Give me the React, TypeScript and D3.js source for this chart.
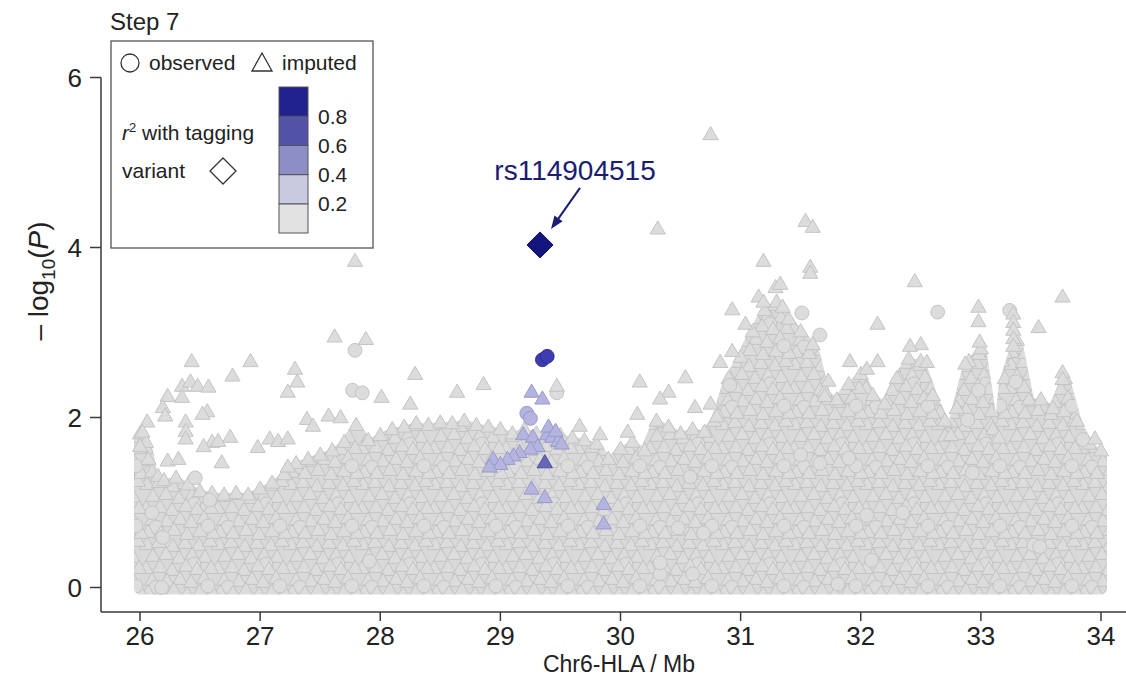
import React from 'react';
import * as d3 from 'd3';

// ---------- data ----------
const xTicks = [26, 27, 28, 29, 30, 31, 32, 33, 34];
const yTicks = [0, 2, 4, 6];
const r2Breaks = [0.2, 0.4, 0.6, 0.8];
const legendColors = ['#e2e2e2', '#c9c9df', '#8e8ec6', '#5252a8', '#20208e'];
const legendLabels = ['0.2', '0.4', '0.6', '0.8'];
const markerFill = ['#dcdcdc', '#cdcde6', '#b4b4de', '#6767b9', '#3d3db0'];
const markerStroke = ['#c4c4c4', '#b4b4d6', '#9a9acc', '#4c4ca6', '#2c2c9c'];

// upper frontier of the dense cloud of SNPs (position Mb, -log10 P)
const massTop: [number, number][] = [
  [26.0, 1.8], [26.05, 1.7], [26.1, 1.35], [26.15, 1.3], [26.2, 1.25], [26.3, 1.28], [26.4, 1.2], [26.5, 1.12],
  [26.6, 1.1], [26.7, 1.08], [26.8, 1.1], [26.9, 1.08], [27.0, 1.15], [27.1, 1.22], [27.2, 1.32], [27.3, 1.45],
  [27.4, 1.5], [27.5, 1.55], [27.6, 1.6], [27.7, 1.7], [27.8, 1.9], [27.9, 1.72], [28.0, 1.78], [28.1, 1.85],
  [28.2, 1.88], [28.3, 1.92], [28.4, 1.9], [28.5, 1.93], [28.6, 1.92], [28.7, 1.95], [28.8, 1.9], [28.9, 1.88],
  [29.0, 1.85], [29.1, 1.8], [29.2, 1.85], [29.3, 1.8], [29.4, 1.82], [29.5, 1.78], [29.6, 1.75], [29.7, 1.72],
  [29.8, 1.68], [29.9, 1.5], [30.0, 1.62], [30.1, 1.7], [30.2, 1.6], [30.3, 1.95], [30.4, 1.88], [30.5, 1.8],
  [30.6, 1.85], [30.7, 1.82], [30.8, 2.0], [30.9, 2.45], [31.0, 2.7], [31.1, 3.0], [31.2, 3.25], [31.3, 3.35],
  [31.4, 3.15], [31.5, 3.0], [31.6, 2.85], [31.7, 2.3], [31.8, 2.2], [31.9, 2.38], [32.0, 2.5], [32.1, 2.25],
  [32.2, 2.15], [32.3, 2.45], [32.4, 2.68], [32.5, 2.65], [32.6, 2.25], [32.7, 1.95], [32.75, 1.78], [32.8, 2.1],
  [32.9, 2.65], [33.0, 2.8], [33.1, 1.85], [33.15, 1.75], [33.2, 2.45], [33.3, 2.9], [33.4, 2.2], [33.5, 2.2],
  [33.6, 2.1], [33.7, 2.45], [33.8, 1.95], [33.9, 1.68], [34.0, 1.6],
];

// imputed SNPs standing out of the cloud (r2 < 0.2)
const imputedPts: [number, number][] = [
  [30.75, 5.32], [30.31, 4.21], [31.54, 4.3], [31.6, 4.23], [27.79, 3.83], [31.19, 3.83], [31.58, 3.76], [31.58, 3.69],
  [32.45, 3.59], [33.68, 3.41], [31.29, 3.52], [31.33, 3.56], [31.15, 3.41], [31.19, 3.35], [31.35, 3.29], [30.93, 3.26],
  [31.04, 3.09], [32.14, 3.09], [32.98, 3.29], [32.98, 3.12], [33.27, 3.21], [33.27, 3.11], [33.27, 3.02], [33.27, 2.92],
  [33.27, 2.83], [33.48, 3.05], [27.62, 2.94], [27.88, 2.91], [32.5, 2.85], [32.41, 2.83], [32.99, 2.88], [30.93, 2.77],
  [30.83, 2.64], [31.91, 2.65], [32.14, 2.65], [32.55, 2.64], [32.87, 2.62], [26.43, 2.65], [26.92, 2.65], [32.05, 2.56],
  [27.29, 2.56], [33.68, 2.52], [33.68, 2.44], [28.29, 2.5], [26.77, 2.48], [30.16, 2.41], [30.54, 2.46], [27.31, 2.41],
  [31.73, 2.42], [28.86, 2.38], [26.35, 2.36], [26.42, 2.41], [26.48, 2.36], [26.57, 2.35], [27.23, 2.29], [28.64, 2.29],
  [29.47, 2.36], [30.4, 2.29], [28.01, 2.23], [26.23, 2.24], [26.35, 2.23], [31.7, 2.24], [30.33, 2.21], [28.25, 2.15],
  [30.62, 2.11], [30.75, 2.15], [26.19, 2.11], [26.56, 2.06], [26.52, 2.03], [30.14, 2.03], [26.21, 2.01], [26.06, 1.94],
  [26.38, 1.94], [27.39, 1.97], [27.57, 2.01], [27.67, 1.99], [27.44, 1.89], [29.66, 1.89], [26.02, 1.82], [30.06, 1.82],
  [29.83, 1.79], [26.38, 1.83], [26.38, 1.74], [26.75, 1.76], [27.08, 1.74], [27.15, 1.71], [27.23, 1.74], [26.6, 1.7],
  [26.65, 1.71], [26.0, 1.65], [26.98, 1.64], [26.53, 1.65], [26.07, 1.5], [26.23, 1.48], [26.32, 1.5], [26.68, 1.46],
  [27.23, 1.41], [33.95, 1.74],
];

// observed (genotyped) SNPs, r2 < 0.2
const observedPts: [number, number][] = [
  [27.79, 2.79], [27.77, 2.32], [27.85, 2.29], [29.47, 2.29], [31.51, 3.23], [31.66, 2.97], [32.64, 3.24], [33.24, 3.26],
  [30.91, 2.38], [33.85, 1.74], [26.18, 0.0], [27.91, 0.31], [30.33, 0.16], [30.6, 0.16], [31.81, 0.04], [32.09, 0.32],
  [33.44, 0.5], [26.19, 0.59], [26.46, 1.29], [26.58, 1.03], [26.1, 0.88], [30.58, 1.3], [31.5, 1.56], [30.33, 0.29],
  [30.69, 0.64], [31.9, 1.52], [30.48, 0.7], [31.66, 1.46], [32.05, 0.85], [32.98, 2.32], [33.29, 2.42], [32.89, 1.97],
  [32.93, 1.35], [32.35, 0.88], [33.49, 0.48],
];

// SNPs in LD with the tagging variant: [position, -log10 P, r2, observed?]
const ldPts: [number, number, number, boolean][] = [
  [29.26, 2.29, 0.45, false], [29.35, 2.21, 0.45, false], [29.22, 2.05, 0.45, true], [29.25, 1.99, 0.45, true],
  [29.19, 1.79, 0.45, false], [29.27, 1.76, 0.45, false], [29.39, 1.79, 0.45, false], [29.43, 1.76, 0.45, false],
  [29.48, 1.71, 0.45, false], [29.51, 1.68, 0.45, false], [29.31, 1.65, 0.45, false], [29.25, 1.62, 0.45, false],
  [29.16, 1.58, 0.45, false], [29.11, 1.54, 0.45, false], [29.06, 1.5, 0.45, false], [28.94, 1.5, 0.45, false],
  [29.0, 1.44, 0.45, false], [28.91, 1.41, 0.45, false], [29.4, 1.88, 0.45, false], [29.46, 1.83, 0.45, false],
  [29.26, 1.15, 0.45, false], [29.37, 1.05, 0.45, false], [29.86, 0.97, 0.45, false], [29.86, 0.74, 0.45, false],
  [29.37, 1.46, 0.65, false], [29.35, 2.68, 0.85, true], [29.39, 2.72, 0.85, true],
];

const leadName = 'rs114904515';
const leadPos = 29.33;
const leadLogP = 4.03;

const FONT = 'Liberation Sans, Arial, Helvetica, sans-serif';

export default function App() {
  const x = d3.scaleLinear().domain([26, 34]).range([140, 1101]);
  const y = d3.scaleLinear().domain([0, 6]).range([587.5, 77.5]);
  const tri = d3.symbol().type(d3.symbolTriangle).size(100)() as string;
  const cir = d3.symbol().type(d3.symbolCircle).size(150)() as string;
  const area = d3
    .area<[number, number]>()
    .x((d) => x(d[0]))
    .y0(y(0) + 1)
    .y1((d) => y(d[1]) + 4);
  const bin = (r2: number) => d3.bisect(r2Breaks, r2);

  // irregular texture tile for the dense cloud (style only)
  const tileW = 72;
  const tileH = 60;
  const tileTris = [
    [3, 5], [15, 3], [29, 7], [41, 4], [55, 6], [66, 2], [9, 17], [22, 15], [35, 19], [48, 16], [61, 18],
    [2, 29], [16, 28], [28, 31], [42, 27], [53, 30], [67, 29], [8, 41], [23, 42], [36, 40], [47, 43], [60, 39],
    [4, 53], [17, 54], [30, 51], [43, 55], [56, 52], [69, 54],
  ];
  const tileCirs = [[50, 24], [12, 47], [64, 46]];
  const tileEls: JSX.Element[] = [];
  const offs = [-1, 0, 1];
  tileTris.forEach(([tx, ty], i) => {
    for (const a of offs)
      for (const b of offs)
        tileEls.push(
          <path key={`t${i}_${a}_${b}`} d={tri} transform={`translate(${tx + a * tileW},${ty + b * tileH})`}
            fill="#dcdcdc" stroke="#c3c3c3" strokeWidth={1} />
        );
    if (i === 10 || i === 20) {
      const c = tileCirs[i === 10 ? 0 : 1];
      for (const a of offs)
        for (const b of offs)
          tileEls.push(<path key={`c${i}_${a}_${b}`} d={cir}
            transform={`translate(${c[0] + a * tileW},${c[1] + b * tileH})`}
            fill="#dcdcdc" stroke="#c3c3c3" strokeWidth={1} />);
    }
  });
  for (const a of offs)
    for (const b of offs)
      tileEls.push(<path key={`cz_${a}_${b}`} d={cir}
        transform={`translate(${tileCirs[2][0] + a * tileW},${tileCirs[2][1] + b * tileH})`}
        fill="#dcdcdc" stroke="#c3c3c3" strokeWidth={1} />);

  const lx = x(leadPos);
  const ly = y(leadLogP);
  const tip = [lx + 11, ly - 16];
  const tail = [lx + 40, ly - 57];
  const ang = Math.atan2(tip[1] - tail[1], tip[0] - tail[0]);
  const ah = 13;
  const aw = 5;
  const head = [
    tip,
    [tip[0] - ah * Math.cos(ang) + aw * Math.sin(ang), tip[1] - ah * Math.sin(ang) - aw * Math.cos(ang)],
    [tip[0] - ah * Math.cos(ang) - aw * Math.sin(ang), tip[1] - ah * Math.sin(ang) + aw * Math.cos(ang)],
  ];

  const sortedLd = [...ldPts].sort((a, b) => a[2] - b[2]);
  const axisColor = '#3a3a3a';
  const cbX = 279;
  const cbY = 87;
  const cbH = 29.2;

  return (
    <svg width={1126} height={683} style={{ position: 'absolute', left: 0, top: 0, background: '#fff' }}
      fontFamily={FONT}>
      <defs>
        <pattern id="massTex" patternUnits="userSpaceOnUse" width={tileW} height={tileH}>
          <rect width={tileW} height={tileH} fill="#d9d9d9" />
          {tileEls}
        </pattern>
      </defs>

      {/* dense cloud */}
      <path d={area(massTop) as string} fill="url(#massTex)" stroke="url(#massTex)" strokeWidth={12}
        strokeLinejoin="round" />
      {massTop.map((d, i) => (
        <path key={`m${i}`} d={tri} transform={`translate(${x(d[0])},${y(d[1])})`}
          fill={markerFill[0]} stroke={markerStroke[0]} strokeWidth={1} />
      ))}
      {observedPts.map((d, i) => (
        <path key={`o${i}`} d={cir} transform={`translate(${x(d[0])},${y(d[1])})`}
          fill={markerFill[0]} stroke={markerStroke[0]} strokeWidth={1} />
      ))}
      {imputedPts.map((d, i) => (
        <path key={`i${i}`} d={tri} transform={`translate(${x(d[0])},${y(d[1])})`}
          fill={markerFill[0]} stroke={markerStroke[0]} strokeWidth={1} />
      ))}
      {sortedLd.map((d, i) => (
        <path key={`l${i}`} d={d[3] ? cir : tri} transform={`translate(${x(d[0])},${y(d[1])})`}
          fill={markerFill[bin(d[2])]} stroke={markerStroke[bin(d[2])]} strokeWidth={1} />
      ))}

      {/* lead variant */}
      <path d={`M${lx},${ly - 13}L${lx + 13},${ly}L${lx},${ly + 13}L${lx - 13},${ly}Z`} fill="#15157e"
        stroke="#101070" strokeWidth={1} />
      <line x1={tail[0]} y1={tail[1]} x2={tip[0] - 6 * Math.cos(ang)} y2={tip[1] - 6 * Math.sin(ang)}
        stroke="#1c1c72" strokeWidth={2} />
      <polygon points={head.map((p) => p.join(',')).join(' ')} fill="#1c1c72" />
      <text x={lx + 35} y={ly - 65} textAnchor="middle" fontSize={28} fill="#1c1c72">{leadName}</text>

      {/* axes */}
      <line x1={101} y1={y(6)} x2={101} y2={612} stroke={axisColor} strokeWidth={1.5} />
      <line x1={101} y1={612} x2={1126} y2={612} stroke={axisColor} strokeWidth={1.5} />
      {yTicks.map((t) => (
        <g key={`yt${t}`}>
          <line x1={90} x2={101} y1={y(t)} y2={y(t)} stroke={axisColor} strokeWidth={1.5} />
          <text x={82} y={y(t)} dy="0.36em" textAnchor="end" fontSize={26} fill="#222">{t}</text>
        </g>
      ))}
      {xTicks.map((t) => (
        <g key={`xt${t}`}>
          <line x1={x(t)} x2={x(t)} y1={612} y2={621} stroke={axisColor} strokeWidth={1.5} />
          <text x={x(t)} y={645} textAnchor="middle" fontSize={26} fill="#222">{t}</text>
        </g>
      ))}
      <text x={619} y={672} textAnchor="middle" fontSize={23} fill="#222">Chr6-HLA / Mb</text>
      <text transform="translate(48,281) rotate(-90)" textAnchor="middle" fontSize={28} fill="#222">
        <tspan>– log</tspan>
        <tspan fontSize={19} dy={7}>10</tspan>
        <tspan dy={-7}>(</tspan>
        <tspan fontStyle="italic">P</tspan>
        <tspan>)</tspan>
      </text>

      {/* title */}
      <text x={110} y={30} fontSize={24} fill="#222">Step 7</text>

      {/* legend */}
      <rect x={111} y={41} width={262} height={207} fill="#fff" stroke="#555" strokeWidth={1.3} />
      <circle cx={130} cy={63} r={9} fill="#fff" stroke="#333" strokeWidth={1.3} />
      <text x={149} y={70} fontSize={21} fill="#222">observed</text>
      <path d="M262,53L272,71L252,71Z" fill="#fff" stroke="#333" strokeWidth={1.3} />
      <text x={282} y={70} fontSize={21} fill="#222">imputed</text>
      {legendColors.map((c, i) => (
        <rect key={`cb${i}`} x={cbX} y={cbY + (legendColors.length - 1 - i) * cbH} width={29} height={cbH}
          fill={c} stroke="#555" strokeWidth={1} />
      ))}
      {legendLabels.map((l, i) => (
        <text key={`cl${i}`} x={318} y={cbY + (legendColors.length - 1 - i) * cbH} dy="0.36em" fontSize={21}
          fill="#222">{l}</text>
      ))}
      <text x={122} y={140} fontSize={21} fill="#222">
        <tspan fontStyle="italic">r</tspan>
        <tspan fontSize={13} dy={-8}>2</tspan>
        <tspan dy={8}> with tagging</tspan>
      </text>
      <text x={122} y={178} fontSize={21} fill="#222">variant</text>
      <path d="M223,158L236,171L223,184L210,171Z" fill="#fff" stroke="#333" strokeWidth={1.3} />
    </svg>
  );
}
